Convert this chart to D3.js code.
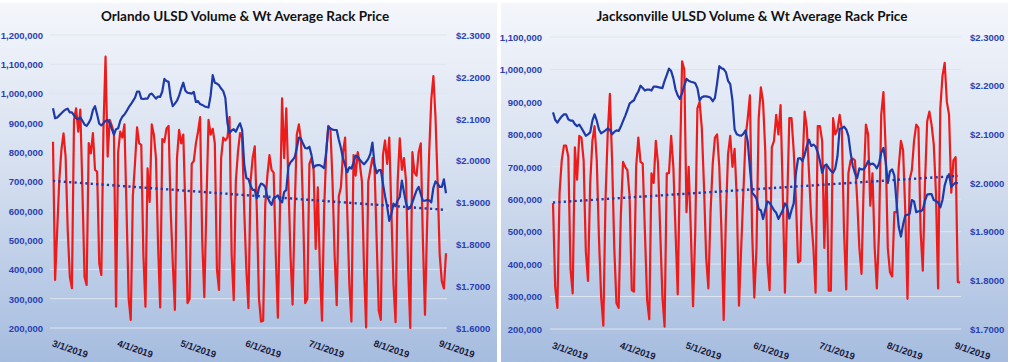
<!DOCTYPE html>
<html>
<head>
<meta charset="utf-8">
<script src="https://cdn.jsdelivr.net/npm/d3@7"></script>
<style>
  body { margin: 0; background: #fff; }
  svg { display: block; font-family: Lato, "Open Sans", "DejaVu Sans", sans-serif; }
</style>
</head>
<body>
<div id="chart"></div>
<script>
// Daily series start on this date, one value per day
const startDate = "2019-03-01";
const monthTicks = ["2019-03-01", "2019-04-01", "2019-05-01", "2019-06-01", "2019-07-01", "2019-08-01", "2019-09-01"];

// Orlando volume (thousand gallons) and weighted average rack price ($/gal)
const orlandoVolume = [
  836, 364, 534, 705, 808, 864, 785, 535, 376, 336,
  910, 950, 870, 945, 671, 375, 347, 831, 796, 865,
  740, 733, 421, 381, 877, 1126, 785, 910, 890, 865,
  273, 800, 870, 850, 895, 600, 300, 228, 650, 760,
  885, 830, 825, 450, 273, 745, 630, 895, 860, 780,
  480, 270, 845, 835, 880, 890, 600, 420, 262, 780,
  876, 830, 860, 600, 285, 300, 760, 770, 830, 870,
  920, 500, 305, 620, 910, 860, 880, 830, 400, 330,
  780, 850, 840, 850, 920, 450, 295, 700, 800, 865,
  850, 600, 400, 268, 700, 780, 820, 600, 300, 222,
  225, 620, 720, 790, 740, 730, 450, 235, 600, 984,
  780, 950, 700, 450, 280, 600, 860, 895, 840, 600,
  285, 300, 760, 780, 740, 470, 680, 400, 225, 600,
  800, 890, 880, 700, 450, 278, 650, 680, 800, 850,
  600, 350, 222, 790, 720, 800, 760, 700, 400, 202,
  700, 740, 780, 750, 500, 260, 228, 790, 840, 760,
  850, 600, 350, 220, 700, 847, 740, 780, 700, 400,
  200, 800, 730, 720, 800, 830, 500, 245, 550, 800,
  980, 1060, 920, 700, 450, 360, 335, 455
];
const orlandoPrice = [
  2.125, 2.101, 2.103, 2.108, 2.113, 2.118, 2.122, 2.124, 2.115, 2.115,
  2.108, 2.101, 2.099, 2.103, 2.095, 2.086, 2.083, 2.090, 2.100, 2.121,
  2.130, 2.110, 2.088, 2.084, 2.089, 2.095, 2.097, 2.090, 2.075, 2.062,
  2.075, 2.077, 2.095, 2.105, 2.110, 2.118, 2.127, 2.134, 2.142, 2.150,
  2.165, 2.165, 2.148, 2.147, 2.148, 2.148, 2.158, 2.160, 2.154, 2.148,
  2.153, 2.152, 2.165, 2.195, 2.190, 2.188, 2.150, 2.130, 2.136, 2.143,
  2.155, 2.172, 2.186, 2.167, 2.162, 2.161, 2.160, 2.164, 2.140, 2.142,
  2.135, 2.133, 2.130, 2.128, 2.127, 2.155, 2.204, 2.186, 2.184, 2.180,
  2.172, 2.166, 2.150, 2.090, 2.066, 2.072, 2.075, 2.069, 2.080, 2.089,
  2.073, 1.990, 1.958, 1.956, 1.940, 1.930, 1.930, 1.910, 1.935, 1.945,
  1.943, 1.937, 1.913, 1.902, 1.894, 1.910, 1.913, 1.917, 1.905, 1.900,
  1.925, 1.930, 1.985, 1.996, 2.001, 2.008, 2.030, 2.055, 2.052, 2.040,
  2.030, 2.029, 2.033, 2.013, 1.983, 1.988, 1.989, 1.989, 1.986, 1.982,
  2.020, 2.080, 2.077, 2.074, 2.073, 2.073, 2.050, 2.030, 2.005, 1.989,
  1.972, 1.984, 1.981, 1.995, 2.012, 2.009, 2.002, 1.996, 1.991, 1.997,
  2.004, 2.016, 2.043, 1.990, 1.970, 1.977, 1.977, 1.945, 1.915, 1.890,
  1.856, 1.872, 1.897, 1.891, 1.905, 1.913, 1.952, 1.925, 1.898, 1.884,
  1.887, 1.900, 1.915, 1.929, 1.937, 1.920, 1.904, 1.904, 1.906, 1.905,
  1.900, 1.935, 1.950, 1.945, 1.937, 1.937, 1.955, 1.922
];
const orlandoTrend = [702, 603];
const orlandoVolumeTicks = [200, 300, 400, 500, 600, 700, 800, 900, 1000, 1100, 1200];
const orlandoPriceTicks = [1.6, 1.7, 1.8, 1.9, 2.0, 2.1, 2.2, 2.3];

// Jacksonville volume (thousand gallons) and weighted average rack price ($/gal)
const jaxVolume = [
  588, 330, 265, 620, 720, 765, 765, 730, 385, 310,
  760, 660, 795, 790, 720, 440, 348, 650, 780, 825,
  720, 480, 300, 210, 600, 800, 925, 720, 450, 280,
  265, 550, 715, 700, 690, 610, 320, 315, 700, 790,
  715, 710, 500, 290, 230, 680, 650, 780, 710, 500,
  300, 207, 680, 680, 795, 700, 500, 307, 700, 1025,
  1000, 560, 700, 500, 270, 500, 880, 900, 820, 640,
  420, 325, 560, 710, 790, 800, 700, 500, 228, 540,
  740, 795, 700, 755, 600, 272, 450, 620, 790, 850,
  920, 500, 297, 450, 850, 945, 900, 750, 405, 320,
  760, 780, 860, 800, 890, 620, 312, 580, 850, 850,
  750, 600, 405, 410, 700, 870, 820, 680, 540, 450,
  312, 825, 825, 780, 450, 700, 318, 318, 850, 800,
  815, 860, 815, 500, 322, 680, 720, 725, 720, 600,
  450, 370, 650, 830, 800, 580, 680, 450, 325, 500,
  860, 930, 760, 450, 375, 362, 560, 560, 700, 780,
  750, 560, 293, 660, 690, 780, 830, 820, 500, 380,
  650, 840, 870, 830, 770, 620, 325, 880, 980, 1020,
  900, 860, 620, 720, 730, 345, 343
];
const jaxPrice = [
  2.145, 2.130, 2.124, 2.131, 2.137, 2.141, 2.141, 2.131, 2.128, 2.128,
  2.121, 2.117, 2.120, 2.113, 2.105, 2.097, 2.100, 2.104, 2.128, 2.141,
  2.128, 2.110, 2.102, 2.105, 2.108, 2.112, 2.109, 2.100, 2.105, 2.108,
  2.107, 2.116, 2.127, 2.138, 2.150, 2.163, 2.167, 2.170, 2.180, 2.188,
  2.200, 2.195, 2.190, 2.192, 2.192, 2.190, 2.198, 2.198, 2.197, 2.196,
  2.195, 2.210, 2.222, 2.235, 2.230, 2.215, 2.192, 2.180, 2.173, 2.185,
  2.200, 2.214, 2.210, 2.208, 2.207, 2.205, 2.195, 2.170, 2.176, 2.178,
  2.178, 2.177, 2.175, 2.168, 2.175, 2.205, 2.240, 2.236, 2.234, 2.228,
  2.210, 2.203, 2.170, 2.110, 2.100, 2.098, 2.097, 2.101, 2.108, 2.085,
  2.030, 1.980, 1.975, 1.968, 1.946, 1.944, 1.926, 1.945, 1.962, 1.959,
  1.952, 1.944, 1.939, 1.926, 1.935, 1.944, 1.958, 1.951, 1.927, 1.944,
  1.958, 2.020, 2.050, 2.051, 2.045, 2.058, 2.076, 2.089, 2.076, 2.079,
  2.075, 2.063, 2.045, 2.021, 2.035, 2.038, 2.031, 2.025, 2.021, 2.030,
  2.055, 2.112, 2.112, 2.116, 2.110, 2.097, 2.062, 2.035, 2.020, 2.010,
  2.030, 2.028, 2.028, 2.035, 2.045, 2.038, 2.040, 2.037, 2.030, 2.040,
  2.062, 2.072, 2.045, 2.000, 2.024, 2.028, 2.015, 1.960, 1.910, 1.890,
  1.915, 1.933, 1.935, 1.937, 1.965, 1.962, 1.940, 1.942, 1.942, 1.945,
  1.964, 1.976, 1.977, 1.977, 1.965, 1.963, 1.960, 1.950, 1.965, 1.995,
  2.010, 2.018, 1.992, 1.997, 2.001, 1.999
];
const jaxTrend = [590, 672];
const jaxVolumeTicks = [200, 300, 400, 500, 600, 700, 800, 900, 1000, 1100];
const jaxPriceTicks = [1.7, 1.8, 1.9, 2.0, 2.1, 2.2, 2.3];

const parse = d3.timeParse("%Y-%m-%d");
const fmtDate = d3.timeFormat("%-m/%-d/%Y");
const fmtVol = d => d3.format(",")(d * 1000);
const fmtPrice = d => "$" + d3.format(".4f")(d);
const day0 = parse(startDate);
const dayAt = i => d3.timeDay.offset(day0, i);

const svg = d3.select("#chart").append("svg")
    .attr("width", 1014)
    .attr("height", 362);

// panel background gradient
const grad = svg.append("defs").append("linearGradient")
    .attr("id", "bg").attr("x1", 0).attr("y1", 0).attr("x2", 0).attr("y2", 1);
grad.append("stop").attr("offset", "0%").attr("stop-color", "#f4f6fb");
grad.append("stop").attr("offset", "45%").attr("stop-color", "#d6e0f0");
grad.append("stop").attr("offset", "100%").attr("stop-color", "#a5bcdf");

function drawPanel(p) {
    const g = svg.append("g");

    g.append("rect")
        .attr("x", p.box[0]).attr("y", 3)
        .attr("width", p.box[1] - p.box[0]).attr("height", 362)
        .attr("fill", "url(#bg)");

    const n = p.volume.length;
    const x = d3.scaleTime()
        .domain([dayAt(0), dayAt(n - 1)])
        .range([p.x0, p.x1]);
    const yVol = d3.scaleLinear()
        .domain(d3.extent(p.volumeTicks))
        .range([p.yBottom, p.yTop]);
    const yPrice = d3.scaleLinear()
        .domain(d3.extent(p.priceTicks))
        .range([p.yBottom, p.yTop]);

    // gridlines
    g.selectAll(".grid")
        .data(p.volumeTicks)
        .join("line")
        .attr("x1", p.gridX[0]).attr("x2", p.gridX[1])
        .attr("y1", d => yVol(d)).attr("y2", d => yVol(d))
        .attr("stroke", "#dfe5ef")
        .attr("stroke-width", 1);

    // left axis labels
    const yl = d3.axisLeft(yVol).tickValues(p.volumeTicks).tickFormat(fmtVol).tickSize(0).tickPadding(0);
    g.append("g")
        .attr("transform", `translate(${p.leftLabelX},0)`)
        .call(yl)
        .call(a => a.select(".domain").remove())
        .selectAll("text")
        .attr("fill", "#2941b3")
        .style("font-size", "9.5px")
        .style("font-weight", "bold")
        .attr("dy", "0.35em");

    // right axis labels
    const yr = d3.axisRight(yPrice).tickValues(p.priceTicks).tickFormat(fmtPrice).tickSize(0).tickPadding(0);
    g.append("g")
        .attr("transform", `translate(${p.rightLabelX},0)`)
        .call(yr)
        .call(a => a.select(".domain").remove())
        .selectAll("text")
        .attr("fill", "#2941b3")
        .style("font-size", "9.5px")
        .style("font-weight", "bold")
        .attr("dy", "0.35em");

    // x axis labels, slanted
    const xa = d3.axisBottom(x).tickValues(monthTicks.map(parse)).tickFormat(fmtDate).tickSize(0).tickPadding(0);
    g.append("g")
        .attr("transform", `translate(0,${p.labelY})`)
        .call(xa)
        .call(a => a.select(".domain").remove())
        .selectAll("text")
        .attr("fill", "#1c1c3c")
        .attr("text-anchor", "start")
        .attr("x", 0).attr("y", 0).attr("dy", 0)
        .attr("transform", "translate(-2,0) rotate(19)")
        .style("font-size", "9.5px")
        .style("font-weight", "bold");

    // volume line
    g.append("path")
        .datum(p.volume)
        .attr("fill", "none")
        .attr("stroke", "#ee1b1b")
        .attr("stroke-width", 2.2)
        .attr("stroke-linejoin", "round")
        .attr("d", d3.line().x((d, i) => x(dayAt(i))).y(d => yVol(d)));

    // volume trend (dotted)
    g.append("path")
        .datum(p.trend)
        .attr("fill", "none")
        .attr("stroke", "#2436a0")
        .attr("stroke-width", 2.4)
        .attr("stroke-dasharray", "2.2,3.2")
        .attr("d", d3.line().x((d, i) => x(dayAt(i === 0 ? 0 : p.price.length - 1))).y(d => yVol(d)));

    // price line
    g.append("path")
        .datum(p.price)
        .attr("fill", "none")
        .attr("stroke", "#1e3aa8")
        .attr("stroke-width", 2.2)
        .attr("stroke-linejoin", "round")
        .attr("d", d3.line().x((d, i) => x(dayAt(i))).y(d => yPrice(d)));

    // title
    g.append("text")
        .attr("x", p.titleX).attr("y", 21)
        .attr("text-anchor", "middle")
        .attr("fill", "#111")
        .style("font-size", "13.5px")
        .style("font-weight", "bold")
        .text(p.title);
}

drawPanel({
    title: "Orlando ULSD Volume & Wt Average Rack Price",
    box: [-5, 497],
    volume: orlandoVolume, price: orlandoPrice, trend: orlandoTrend,
    volumeTicks: orlandoVolumeTicks, priceTicks: orlandoPriceTicks,
    x0: 53, x1: 446, yTop: 35, yBottom: 328,
    gridX: [50, 447], leftLabelX: 43, rightLabelX: 456,
    labelY: 346, titleX: 245
});

drawPanel({
    title: "Jacksonville ULSD Volume & Wt Average Rack Price",
    box: [501, 1008],
    volume: jaxVolume, price: jaxPrice, trend: jaxTrend,
    volumeTicks: jaxVolumeTicks, priceTicks: jaxPriceTicks,
    x0: 553, x1: 960, yTop: 37, yBottom: 329,
    gridX: [550, 961], leftLabelX: 542, rightLabelX: 970,
    labelY: 348, titleX: 752
});
</script>
</body>
</html>
